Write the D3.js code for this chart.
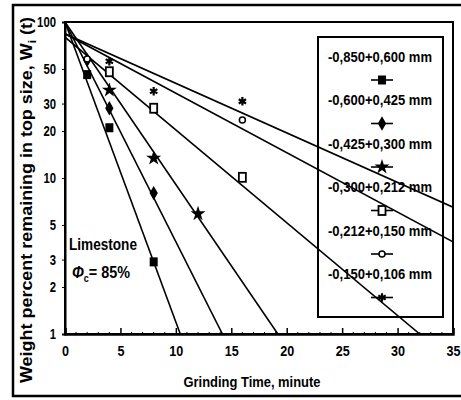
<!DOCTYPE html>
<html>
<head>
<meta charset="utf-8">
<script src="https://cdn.jsdelivr.net/npm/d3@7"></script>
<style>
  html, body { margin: 0; padding: 0; background: #fff; }
  svg { display: block; }
  text { font-family: "Liberation Sans Narrow", "Arial Narrow", "Liberation Sans", Arial, sans-serif; font-weight: bold; fill: #000; }
</style>
</head>
<body>
<svg id="chart" width="461" height="400"></svg>
<script>
// Size classes (legend order)
const sizeClasses = [
  "-0,850+0,600 mm",
  "-0,600+0,425 mm",
  "-0,425+0,300 mm",
  "-0,300+0,212 mm",
  "-0,212+0,150 mm",
  "-0,150+0,106 mm"
];
const markerKinds = ["squareFilled", "diamondFilled", "starFilled", "squareOpen", "circleOpen", "asterisk"];

// Measured points: grinding time (min) and weight percent remaining in top size
const timesS1 = [2, 4, 8];   const weightS1 = [46, 21, 2.9];
const timesS2 = [2, 4, 8];   const weightS2 = [57, 28, 8.0];
const timesS3 = [4, 8, 12];  const weightS3 = [36.6, 13.4, 5.9];
const timesS4 = [4, 8, 16];  const weightS4 = [48, 28, 10.1];
const timesS5 = [2, 16];     const weightS5 = [58, 23.5];
const timesS6 = [4, 8, 16];  const weightS6 = [56, 36, 31];

// First-order fit lines: [time, weight] at start and end
const fitS1 = [[0, 100], [10.4, 1]];
const fitS2 = [[0, 100], [14.2, 1]];
const fitS3 = [[0, 100], [19.2, 1]];
const fitS4 = [[0, 80], [32, 1]];
const fitS5 = [[0, 84], [35, 3.9]];
const fitS6 = [[0, 84], [35, 6.5]];

// Axis ticks
const xTicks = [0, 5, 10, 15, 20, 25, 30, 35];
const yTicks = [100, 50, 30, 20, 10, 5, 3, 2, 1];

const pointTimes = [timesS1, timesS2, timesS3, timesS4, timesS5, timesS6];
const pointWeights = [weightS1, weightS2, weightS3, weightS4, weightS5, weightS6];
const fits = [fitS1, fitS2, fitS3, fitS4, fitS5, fitS6];

const svg = d3.select("#chart");
const x = d3.scaleLinear().domain([0, 35]).range([65, 453]);
const y = d3.scaleLog().domain([1, 100]).range([334, 22]);

// Outer figure frame (right side runs off the page)
svg.append("path")
  .attr("d", "M462,5 H13 V396 H462")
  .attr("fill", "none").attr("stroke", "#000").attr("stroke-width", 2.5);

// Clip for plot contents
svg.append("clipPath").attr("id", "plotClip")
  .append("rect").attr("x", x(0)).attr("y", y(100)).attr("width", x(35) - x(0)).attr("height", y(1) - y(100));

// Plot frame
svg.append("rect")
  .attr("x", x(0)).attr("y", y(100))
  .attr("width", x(35) - x(0)).attr("height", y(1) - y(100))
  .attr("fill", "none").attr("stroke", "#000").attr("stroke-width", 2);

// Condensed digits for tick labels
function narrow(sel, perChar) {
  sel.each(function () {
    const t = d3.select(this);
    const n = t.text().length;
    t.attr("textLength", n * perChar).attr("lengthAdjust", "spacingAndGlyphs");
  });
}

// X axis (ticks point inward)
const xAxis = d3.axisBottom(x).tickValues(xTicks).tickSize(-6).tickPadding(12).tickFormat(d3.format("d"));
const gx = svg.append("g").attr("transform", `translate(0,${y(1)})`).call(xAxis);
gx.select(".domain").attr("stroke-width", 2.5);
gx.selectAll(".tick line").attr("stroke-width", 1.5);
gx.selectAll("text").attr("font-size", 14).call(narrow, 7);
const gxMinor = svg.append("g");
gxMinor.selectAll("line").data(d3.range(1, 35).filter(d => d % 5 !== 0)).join("line")
  .attr("x1", d => x(d)).attr("x2", d => x(d))
  .attr("y1", y(1)).attr("y2", y(1) - 2)
  .attr("stroke", "#000").attr("stroke-width", 1);

// Y axis (log)
const yAxis = d3.axisLeft(y).tickValues(yTicks).tickSize(3).tickPadding(6).tickFormat(d3.format("d"));
const gy = svg.append("g").attr("transform", `translate(${x(0)},0)`).call(yAxis);
gy.select(".domain").attr("stroke-width", 2);
gy.selectAll("text").attr("font-size", 14).call(narrow, 6.3);

// Fit lines
const line = d3.line().x(d => x(d[0])).y(d => y(d[1]));
const plot = svg.append("g").attr("clip-path", "url(#plotClip)");
plot.selectAll("path.fit").data(fits).join("path")
  .attr("class", "fit")
  .attr("d", line)
  .attr("fill", "none").attr("stroke", "#000").attr("stroke-width", 1.6);

// Marker drawing
function drawMarker(g, kind) {
  switch (kind) {
    case "squareFilled":
      g.append("rect").attr("x", -4).attr("y", -4.5).attr("width", 8).attr("height", 9).attr("fill", "#000");
      break;
    case "diamondFilled":
      g.append("path").attr("d", d3.symbol(d3.symbolDiamond, 60)()).attr("fill", "#000");
      break;
    case "starFilled":
      g.append("path").attr("d", d3.symbol(d3.symbolStar, 70)()).attr("fill", "#000");
      break;
    case "squareOpen":
      g.append("rect").attr("x", -3.5).attr("y", -4.5).attr("width", 7).attr("height", 9)
        .attr("fill", "#fff").attr("stroke", "#000").attr("stroke-width", 1.8);
      break;
    case "circleOpen":
      g.append("circle").attr("r", 3).attr("fill", "#fff").attr("stroke", "#000").attr("stroke-width", 1.5);
      break;
    case "asterisk":
      g.append("path").attr("d", d3.symbol(d3.symbolAsterisk, 50)())
        .attr("fill", "none").attr("stroke", "#000").attr("stroke-width", 2.2);
      break;
  }
}

pointTimes.forEach((times, i) => {
  const pts = times.map((t, j) => [t, pointWeights[i][j]]);
  plot.selectAll(null).data(pts).join("g")
    .attr("transform", d => `translate(${x(d[0])},${y(d[1])})`)
    .each(function () { drawMarker(d3.select(this), markerKinds[i]); });
});

// Legend
const legend = svg.append("g");
legend.append("rect")
  .attr("x", 318).attr("y", 37).attr("width", 125).attr("height", 280)
  .attr("fill", "none").attr("stroke", "#000").attr("stroke-width", 2);
sizeClasses.forEach((label, i) => {
  const cy = 57 + i * 43.5;
  legend.append("text")
    .attr("x", 380).attr("y", cy).attr("dy", "0.35em")
    .attr("text-anchor", "middle").attr("font-size", 14)
    .attr("textLength", 104).attr("lengthAdjust", "spacingAndGlyphs")
    .text(label);
  const my = cy + 23;
  legend.append("line").attr("x1", 371).attr("x2", 393).attr("y1", my).attr("y2", my)
    .attr("stroke", "#000").attr("stroke-width", 1.6);
  const mg = legend.append("g").attr("transform", `translate(382,${my})`);
  drawMarker(mg, markerKinds[i]);
});

// Annotation
svg.append("text").attr("x", 69).attr("y", 250).attr("font-size", 17)
  .attr("textLength", 68).attr("lengthAdjust", "spacingAndGlyphs").text("Limestone");
const phi = svg.append("text").attr("x", 72).attr("y", 278).attr("font-size", 16)
  .attr("textLength", 58).attr("lengthAdjust", "spacingAndGlyphs");
phi.append("tspan").attr("font-style", "italic").text("Φ");
phi.append("tspan").attr("font-size", 10).attr("dy", 4).text("c");
phi.append("tspan").attr("dy", -4).text("= 85%");

// Axis titles
svg.append("text")
  .attr("x", 252).attr("y", 387).attr("text-anchor", "middle").attr("font-size", 14)
  .attr("textLength", 137).attr("lengthAdjust", "spacingAndGlyphs")
  .text("Grinding Time, minute");

const yTitle = svg.append("text")
  .attr("transform", "translate(32,200) rotate(-90)")
  .attr("text-anchor", "middle").attr("font-size", 16)
  .attr("textLength", 366).attr("lengthAdjust", "spacingAndGlyphs");
yTitle.append("tspan").text("Weight percent remaining in top size, W");
yTitle.append("tspan").attr("font-size", 11).attr("dy", 4).text("i");
yTitle.append("tspan").attr("dy", -4).text(" (t)");
</script>
</body>
</html>
